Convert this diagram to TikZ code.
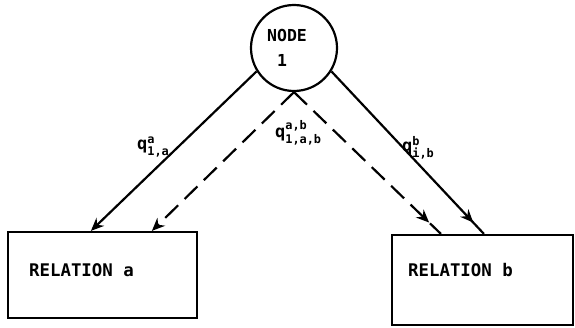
\documentclass[tikz,border=0pt]{standalone}
\usepackage{amsmath}
\usepackage{fontspec}
\setmonofont{DejaVu Sans Mono}
\usetikzlibrary{arrows.meta,positioning,calc,decorations.markings}

\begin{document}
\begin{tikzpicture}[
  x=1pt,y=1pt,
  line width=2.2pt,
  nd/.style={draw,circle,minimum size=86pt,inner sep=0pt,align=center,font=\ttfamily\bfseries\fontsize{16.5}{25}\selectfont},
  rel/.style={draw,rectangle,minimum width=189pt,minimum height=86pt},
  reltxt/.style={anchor=west,inner sep=0pt,font=\ttfamily\bfseries\fontsize{17.4}{20}\selectfont},
  lbl/.style={anchor=west,inner sep=0pt,font=\ttfamily\bfseries\fontsize{17}{17}\selectfont},
  dashline/.style={dash pattern=on 18pt off 9pt},
  tip/.style={-{Stealth[length=13pt,width=11pt]}},
  midtip/.style={postaction={decorate},decoration={markings,mark=at position #1 with {\arrow{Stealth[length=13pt,width=11pt]}}}}
]
  \useasboundingbox (0,0) rectangle (575,327);

  \node[nd]  (nodei) at (294,279) {\hspace*{-14pt}NODE\\\hspace*{-24pt}1};

  \node[rel] (rela) at (102.5,52) {};
  \node[rel,minimum width=181pt,minimum height=90pt] (relb) at (482.5,47) {};
  \node[reltxt] (txta) at (28,57) {RELATION a};
  \node[reltxt] (txtb) at (407,57) {RELATION b};

  % flows from node 1
  \draw[tip] (nodei.212) -- ([xshift=84pt]rela.north west);
  \draw[tip,dashline] (nodei.south) -- ([xshift=145pt]rela.north west);
  \draw[dashline,midtip=0.92] (nodei.south) -- ([xshift=50pt]relb.north west);
  \draw[midtip=0.93] (nodei.328) -- ([xshift=93pt]relb.north west);

  \node[lbl] (qa)  at (136,180) {q$^{\texttt{a}}_{\texttt{1,a}}$};
  \node[lbl] (qab) at (274,194) {q$^{\texttt{a,b}}_{\texttt{1,a,b}}$};
  \node[lbl] (qb)  at (401,179) {q$^{\texttt{b}}_{\texttt{i,b}}$};
\end{tikzpicture}
\end{document}
